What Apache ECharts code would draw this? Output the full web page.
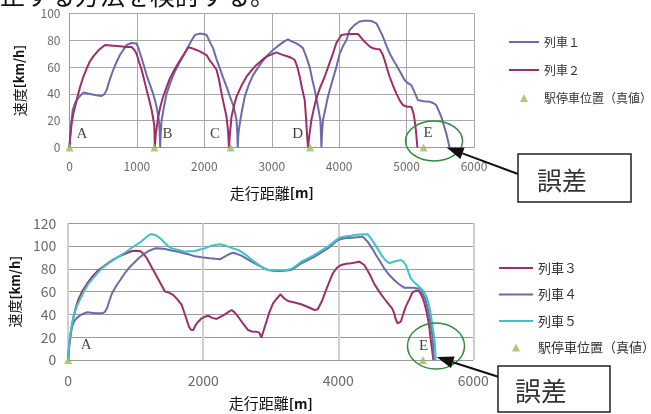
<!DOCTYPE html>
<html><head><meta charset="utf-8">
<script src="https://cdn.jsdelivr.net/npm/echarts@6/dist/echarts.min.js"></script>
<style>html,body{margin:0;padding:0;background:#fff}#main{width:651px;height:414px}</style>
</head><body><div id="main"></div>
<script>
// ---------- DATA ----------
const topSeriesNames = ['列車１', '列車２'];
const bottomSeriesNames = ['列車３', '列車４', '列車５'];
const stationName = '駅停車位置（真値）';

const train1 = [[0,0],[20,15],[47,28],[90,34],[131,37],[205,41],[304,40],[400,39],[477,38.4],[520,40],[551,43],[600,51],[649,58],[700,64],[748,69],[800,73],[847,76.5],[921,78],[995,77.7],[1030,73],[1070,66.6],[1110,60],[1144,54],[1200,46],[1241,40],[1275,34],[1301,28],[1320,22],[1331,18],[1340,8],[1345,0],
[1352,10],[1366,20],[1400,30],[1440,40],[1500,49],[1563,56.6],[1650,65],[1736,72.8],[1800,79],[1859,84],[1933,85],[2000,84.5],[2033,84],[2080,79],[2130,74],[2180,66],[2230,59],[2280,52],[2329,45.4],[2380,38],[2427,31.7],[2455,26],[2477,20.5],[2490,10],[2495,0],
[2505,10],[2526,18],[2560,28],[2600,38],[2660,47],[2723,54],[2800,60],[2871,65],[2950,69.5],[3019,72.8],[3100,76],[3180,79],[3241,80.7],[3300,79],[3366,77.7],[3420,76],[3464,74],[3510,68],[3563,60],[3600,51],[3637,43],[3665,36],[3686,30.4],[3705,25],[3721,20.5],[3730,10],[3736,0],
[3745,10],[3760,20.5],[3800,30],[3834,38],[3900,50],[3958,60],[4007,70],[4060,76],[4107,80],[4156,87.7],[4230,91.5],[4304,94],[4380,94.6],[4452,94.6],[4500,94],[4551,92.7],[4600,88],[4649,82.7],[4700,76],[4748,70.3],[4800,65.5],[4847,61.6],[4910,56],[4970,50.4],[5020,48],[5070,46.6],[5120,41],[5168,35.4],[5250,34.5],[5341,34.2],[5400,33],[5440,31.7],[5480,27],[5514,23],[5550,17],[5588,10.6],[5615,5],[5637,0]];

const train2 = [[0,0],[10,8],[32,18],[55,25],[81,30],[120,38],[156,45],[200,52],[255,59],[300,64],[353,68],[430,72.5],[526,76.5],[649,76],[750,75.5],[847,75],[921,75],[960,73],[995,70],[1030,64],[1070,58],[1110,50],[1144,43],[1180,36],[1218,28],[1240,22],[1256,17],[1262,8],[1265,0],
[1280,10],[1316,23],[1350,31],[1390,38],[1440,45],[1489,51.6],[1550,57.5],[1612,62.8],[1690,69],[1760,74.8],[1820,74],[1884,72.8],[1960,71],[2033,69],[2081,65],[2140,61],[2181,58],[2220,50],[2255,40.4],[2290,32],[2329,23],[2353,11.8],[2365,0],
[2380,10],[2403,23],[2440,31],[2477,38],[2550,46],[2625,52.8],[2700,57.5],[2773,61.6],[2850,65],[2921,67.8],[3000,69.5],[3070,71],[3140,69.5],[3218,68.3],[3290,67],[3341,65.3],[3380,60],[3415,52.8],[3450,44],[3489,35.4],[3514,18],[3525,8],[3538,0],
[3560,10],[3588,20.5],[3620,28],[3662,36.7],[3720,45],[3785,52.8],[3850,62],[3909,70.3],[3958,78],[4033,84],[4131,84.7],[4200,84.7],[4279,84.7],[4340,81],[4403,77.7],[4450,75.5],[4501,74],[4550,73.5],[4600,73.3],[4640,70],[4674,65.3],[4710,59],[4748,52.8],[4800,46],[4847,40.4],[4900,35],[4945,31.7],[5000,30.5],[5070,30.4],[5100,26],[5119,20.5],[5140,12],[5160,0]];

const train3 = [[0,0],[10,10],[34,22],[70,35],[108,45],[150,53],[206,60],[280,67],[354,73],[450,79],[550,83.4],[650,87.5],[748,90.7],[850,93.5],[944,95.7],[1000,96],[1066,95.7],[1120,93],[1165,89.3],[1230,82],[1288,76],[1360,68],[1435,60],[1500,59],[1558,57],[1620,53],[1681,48.3],[1740,38],[1790,29],[1820,26.5],[1853,26.3],[1890,31],[1927,33.6],[1976,36.6],[2025,38],[2075,38.9],[2130,37],[2198,36],[2260,38],[2320,40],[2370,42],[2419,43.9],[2460,42],[2517,38],[2590,32],[2665,26.3],[2720,25],[2788,24.9],[2830,24],[2861,19.6],[2900,27],[2935,33.6],[2980,42],[3034,49.8],[3090,54],[3142,57.7],[3200,54],[3255,51.8],[3350,50.5],[3451,48.9],[3550,46.5],[3648,43.9],[3697,44.5],[3760,52],[3820,61.5],[3870,69],[3919,76],[3980,81],[4041,83.4],[4120,84.5],[4189,84.9],[4250,85.5],[4311,86.3],[4385,83.4],[4430,79],[4484,73],[4540,66],[4606,60],[4680,54],[4754,48.3],[4800,45],[4828,41],[4850,36],[4877,32.2],[4926,33.6],[4960,40],[5000,46.8],[5050,53],[5099,59.4],[5150,61],[5196,60.6],[5240,56],[5270,51.2],[5310,42],[5344,30.7],[5370,18],[5393,7.3],[5408,0]];

const train4 = [[0,0],[8,8],[20,16],[50,28],[84,33.6],[130,37],[182,39.5],[280,41.9],[403,41],[501,41],[540,42],[575,45.4],[610,52],[649,58.6],[710,65],[771,70.2],[830,75.5],[895,80.5],[970,85],[1042,89.3],[1110,92.5],[1190,95.7],[1288,98],[1360,97.8],[1435,97.5],[1530,96.2],[1632,95.1],[1700,94],[1780,92.8],[1880,91],[1976,90.2],[2099,89.3],[2180,88.8],[2246,88.4],[2300,90],[2345,91.6],[2400,93.3],[2444,94.2],[2500,93],[2566,91.6],[2640,89],[2714,86.3],[2790,84],[2861,81.9],[2920,80],[2960,79],[3030,78.3],[3108,78.1],[3200,78.3],[3304,79],[3380,82],[3451,84.9],[3550,87.8],[3648,90.7],[3750,94.5],[3845,98],[3920,101.5],[3993,105.4],[4090,106.8],[4189,107.4],[4280,107.8],[4361,108.3],[4400,106],[4435,103.9],[4500,98],[4558,92.2],[4620,86.5],[4680,80.5],[4750,75],[4828,70.2],[4900,66.5],[4975,63.5],[5050,63.5],[5122,63.5],[5221,62.3],[5260,57],[5295,52.7],[5325,45],[5354,36.6],[5375,29],[5393,21.9],[5405,12],[5418,0]];

const train5 = [[0,0],[8,10],[20,19],[50,30],[84,39.5],[130,47.5],[182,54],[240,61],[305,67.3],[380,72.5],[452,77.5],[520,81.5],[600,84.9],[690,88.5],[771,91.6],[860,95],[944,98.6],[1020,101.5],[1091,104.5],[1150,107.5],[1214,110.4],[1260,110.2],[1313,109.1],[1380,106],[1435,102.4],[1490,99.5],[1534,98],[1630,96.5],[1730,95.1],[1800,95.5],[1878,95.7],[1950,97],[2025,98],[2124,100.4],[2246,101.6],[2300,101],[2370,99.5],[2440,98],[2517,96.6],[2590,94],[2665,90.7],[2740,87],[2812,84],[2880,81],[2960,79],[3060,78.9],[3156,78.8],[3230,79],[3304,79.9],[3380,83],[3451,86.3],[3550,89.3],[3648,92.2],[3750,96],[3845,99.5],[3930,103.5],[4016,107.4],[4100,108.5],[4189,109.1],[4238,109.7],[4330,110.2],[4435,110.4],[4480,107],[4533,102.4],[4600,96],[4656,90.7],[4700,87.5],[4754,84.9],[4830,86.5],[4926,87.8],[4960,86.5],[5000,83.4],[5040,77],[5074,71.7],[5120,68.5],[5172,65.8],[5220,63],[5270,60],[5310,55],[5344,48.3],[5370,40],[5393,30.7],[5415,22],[5428,16],[5436,8],[5442,0]];

const stationsTopX = [0, 1260, 2390, 3568, 5252];
const stationsTopNames = ['A', 'B', 'C', 'D', 'E'];
const stationsBottomX = [0, 5255];
const stationsBottomNames = ['A', 'E'];

const topXTicks = [0, 1000, 2000, 3000, 4000, 5000, 6000];
const topYTicks = [0, 20, 40, 60, 80, 100];
const bottomXTicks = [0, 2000, 4000, 6000];
const bottomYTicks = [0, 20, 40, 60, 80, 100, 120];

const errorLabel = '誤差';
const headText = '止する方法を検討する。';

// ---------- STYLE ----------
const C1 = '#6B6BAB', C2 = '#9E2E6A', C5 = '#3EC3C6', CST = '#9BBB59';
const JP = '"Noto Sans CJK JP", "Noto Sans", sans-serif';
const SERIF = '"Liberation Serif", "DejaVu Serif", serif';
const topLabelOffsets = [[12.5, -13.5], [13, -13.5], [-15.5, -13.5], [-12.5, -13.5], [4.5, -14.5]];
const bottomLabelOffsets = [[18, -15], [0.5, -14]];
const TRI = 'path://M5,0 L10,10 L0,10 Z';

function stationData(xs, names, offsets) {
  return xs.map((x, i) => ({ name: names[i], value: [x, 0], label: { offset: offsets[i] } }));
}

function lineSeries(name, data, color, idx) {
  return { name, type: 'line', data, xAxisIndex: idx, yAxisIndex: idx, showSymbol: false, symbol: 'none',
    lineStyle: { color, width: 2 }, itemStyle: { color }, z: 3 };
}
function stationSeries(xs, names, offsets, idx) {
  return { name: stationName, type: 'scatter', xAxisIndex: idx, yAxisIndex: idx, symbol: 'triangle', symbolSize: 8,
    itemStyle: { color: CST }, z: 4, clip: false,
    label: { show: true, position: 'inside', formatter: '{b}', color: '#111', fontFamily: SERIF, fontSize: 15 },
    data: stationData(xs, names, offsets) };
}

const axisLbl = (size) => ({ color: '#6a6a6a', fontFamily: JP, fontSize: size, formatter: (v) => String(v) });
function nameRich(size) {
  return { rich: { a: { fontFamily: JP, fontSize: size, color: '#111' }, b: { fontFamily: JP, fontSize: size - 1, fontWeight: 'bold', color: '#111' } } };
}
const lineLegend = (n) => ({ name: n, itemStyle: { opacity: 0 } });

const option = {
  animation: false,
  backgroundColor: '#fff',
  grid: [
    { left: 69.5, right: 177, top: 13.5, bottom: 266.5, containLabel: false },
    { left: 66, right: 177.7, top: 223.3, bottom: 54, containLabel: false }
  ],
  xAxis: [
    { type: 'value', gridIndex: 0, min: topXTicks[0], max: topXTicks[topXTicks.length - 1], interval: topXTicks[1] - topXTicks[0],
      axisLine: { lineStyle: { color: '#999' } }, axisTick: { show: false },
      axisLabel: Object.assign({ margin: 13 }, axisLbl(12)),
      splitLine: { show: true, lineStyle: { color: '#a8a8a8', width: 1 } },
      name: '{a|走行距離}{b|[m]}', nameLocation: 'middle', nameGap: 38, nameTextStyle: nameRich(15) },
    { type: 'value', gridIndex: 1, min: bottomXTicks[0], max: bottomXTicks[bottomXTicks.length - 1], interval: bottomXTicks[1] - bottomXTicks[0],
      axisLine: { show: false }, axisTick: { show: false },
      axisLabel: Object.assign({ margin: 14 }, axisLbl(14)),
      splitLine: { show: true, lineStyle: { color: '#cfcfcf', width: 2 } },
      name: '{a|走行距離}{b|[m]}', nameLocation: 'middle', nameGap: 36, nameTextStyle: nameRich(15) }
  ],
  yAxis: [
    { type: 'value', gridIndex: 0, min: topYTicks[0], max: topYTicks[topYTicks.length - 1], interval: topYTicks[1] - topYTicks[0],
      axisLine: { show: true, lineStyle: { color: '#999' } }, axisTick: { show: false },
      axisLabel: Object.assign({ margin: 9 }, axisLbl(12)),
      splitLine: { show: true, lineStyle: { color: '#a8a8a8', width: 1 } },
      name: '{a|速度}{b|[km/h]}', nameLocation: 'middle', nameRotate: 90, nameGap: 43, nameTextStyle: nameRich(14) },
    { type: 'value', gridIndex: 1, min: bottomYTicks[0], max: bottomYTicks[bottomYTicks.length - 1], interval: bottomYTicks[1] - bottomYTicks[0],
      axisLine: { show: false }, axisTick: { show: false },
      axisLabel: Object.assign({ margin: 12 }, axisLbl(14)),
      splitLine: { show: true, lineStyle: { color: '#9a9a9a', width: 1 } },
      name: '{a|速度}{b|[km/h]}', nameLocation: 'middle', nameRotate: 90, nameGap: 42, nameTextStyle: nameRich(14) }
  ],
  legend: [
    { orient: 'vertical', left: 503, top: 30, itemWidth: 30, itemHeight: 8, itemGap: 14, symbolKeepAspect: true,
      textStyle: { fontFamily: JP, fontSize: 12, color: '#333', lineHeight: 14 },
      data: [lineLegend(topSeriesNames[0]), lineLegend(topSeriesNames[1]), { name: stationName, icon: TRI }] },
    { orient: 'vertical', left: 493, top: 256, itemWidth: 34, itemHeight: 8, itemGap: 12.5, symbolKeepAspect: true,
      textStyle: { fontFamily: JP, fontSize: 13, color: '#333', lineHeight: 14 },
      data: [lineLegend(bottomSeriesNames[0]), lineLegend(bottomSeriesNames[1]), lineLegend(bottomSeriesNames[2]), { name: stationName, icon: TRI }] }
  ],
  series: [
    lineSeries(topSeriesNames[0], train1, C1, 0),
    lineSeries(topSeriesNames[1], train2, C2, 0),
    stationSeries(stationsTopX, stationsTopNames, topLabelOffsets, 0),
    lineSeries(bottomSeriesNames[0], train3, C2, 1),
    lineSeries(bottomSeriesNames[1], train4, C1, 1),
    lineSeries(bottomSeriesNames[2], train5, C5, 1),
    stationSeries(stationsBottomX, stationsBottomNames, bottomLabelOffsets, 1)
  ]
};

const chart = echarts.init(document.getElementById('main'));
chart.setOption(option);

// ---------- ANNOTATIONS (anchored to data via the axes) ----------
function toPx(idx, pt) { return chart.convertToPixel({ xAxisIndex: idx, yAxisIndex: idx }, pt); }
function arrow(S, T) {
  const dx = T[0] - S[0], dy = T[1] - S[1], L = Math.hypot(dx, dy);
  const ux = dx / L, uy = dy / L, hl = 17, hw = 12;
  const bx = T[0] - ux * hl, by = T[1] - uy * hl;
  return [
    { type: 'line', shape: { x1: S[0], y1: S[1], x2: bx, y2: by }, style: { stroke: '#111', lineWidth: 2 }, z: 100 },
    { type: 'polygon', shape: { points: [T, [bx - uy * hw / 2, by + ux * hw / 2], [bx + uy * hw / 2, by - ux * hw / 2]] }, style: { fill: '#111' }, z: 100 }
  ];
}
const eTop = toPx(0, [stationsTopX[4], 0]);
const eBot = toPx(1, [stationsBottomX[1], 0]);
const tipTop = toPx(0, train1[train1.length - 1]);
const tipBot = toPx(1, train5[train5.length - 1]);
const g = [
  { type: 'text', left: 0, top: -17, style: { text: headText, font: '25px "Noto Sans CJK JP"', fill: '#111' }, z: 100 },
  { type: 'ellipse', shape: { cx: eTop[0] + 10.5, cy: eTop[1] - 6.5, rx: 28.5, ry: 20 }, style: { fill: 'none', stroke: '#2E8B3E', lineWidth: 1.5 }, z: 100 },
  { type: 'ellipse', shape: { cx: eBot[0] + 13, cy: eBot[1] - 14, rx: 28.5, ry: 23 }, style: { fill: 'none', stroke: '#2E8B3E', lineWidth: 1.5 }, z: 100 },
  ...arrow([518, 174], [tipTop[0] - 3, tipTop[1]]),
  ...arrow([499, 377], [tipBot[0] + 1, tipBot[1] - 3]),
  { type: 'rect', shape: { x: 518, y: 154, width: 113, height: 48 }, style: { fill: '#fff', stroke: '#222', lineWidth: 1.5 }, z: 101 },
  { type: 'text', x: 537, y: 180, style: { text: errorLabel, font: '25px "Noto Sans CJK JP"', fill: '#333', textVerticalAlign: 'middle' }, z: 102 },
  { type: 'rect', shape: { x: 498, y: 366, width: 112, height: 46 }, style: { fill: '#fff', stroke: '#222', lineWidth: 1.5 }, z: 101 },
  { type: 'text', x: 515, y: 391.5, style: { text: errorLabel, font: '26px "Noto Sans CJK JP"', fill: '#333', textVerticalAlign: 'middle' }, z: 102 }
];
chart.setOption({ graphic: g });
</script>
</body></html>
